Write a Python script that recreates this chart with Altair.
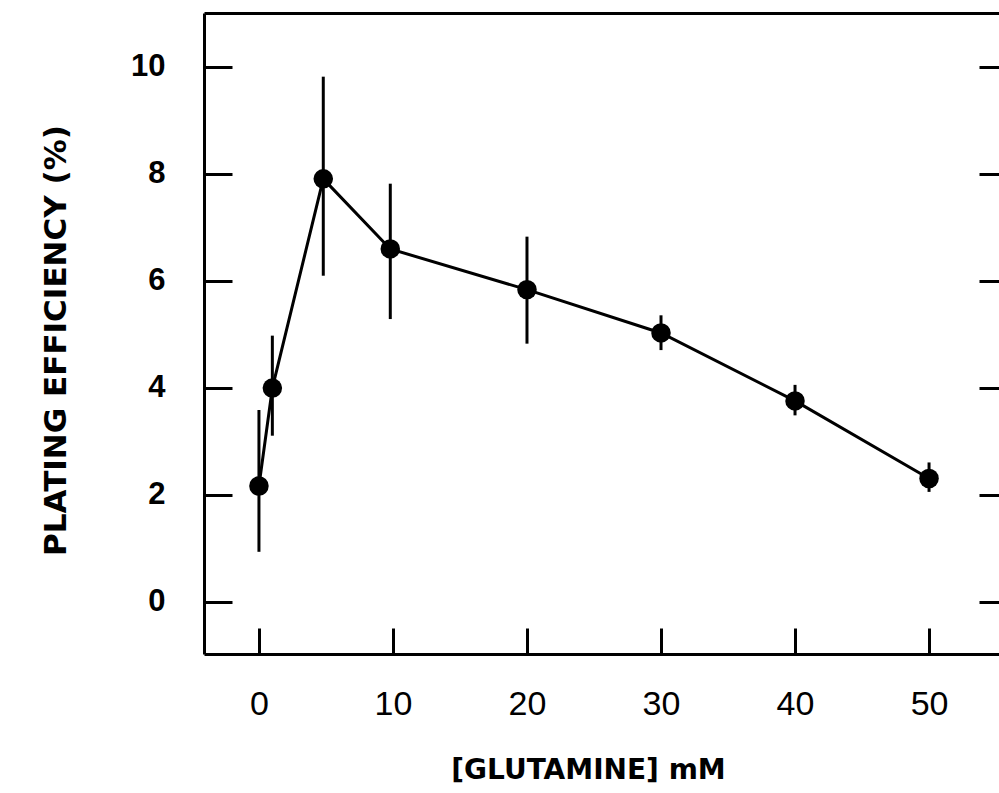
import altair as alt
import pandas as pd

# Values
glutamine = [0, 1, 4.8, 9.8, 20, 30, 40, 50]          # mM
efficiency = [2.16, 3.99, 7.90, 6.59, 5.83, 5.02, 3.75, 2.30]  # %
err_low = [0.93, 3.10, 6.09, 5.28, 4.82, 4.70, 3.48, 2.05]
err_high = [3.58, 4.97, 9.81, 7.81, 6.82, 5.35, 4.05, 2.60]
x_ticks = [0, 10, 20, 30, 40, 50]
y_ticks = [0, 2, 4, 6, 8, 10]

df = pd.DataFrame({"g": glutamine, "pe": efficiency, "lo": err_low, "hi": err_high})

xs = alt.Scale(domain=[-4.10, 55.22], nice=False, zero=False)
ys = alt.Scale(domain=[-0.98, 11.0], nice=False, zero=False)

LABEL_X_FONT = "Liberation Sans, sans-serif"
LABEL_Y_FONT = "Liberation Sans, sans-serif"
TITLE_FONT = "DejaVu Sans, sans-serif"

# axes: inward ticks with labels
ax_bottom_ticks = alt.Axis(orient="bottom", values=x_ticks, offset=-26, tickSize=26, tickWidth=3,
                           tickColor="black", domain=False, grid=False, labelFont=LABEL_X_FONT,
                           labelFontSize=34, labelPadding=33, labelColor="black", title=None)
ax_left_ticks = alt.Axis(orient="left", values=y_ticks, offset=-28, tickSize=28, tickWidth=3,
                         tickColor="black", domain=False, grid=False, labelFont=LABEL_Y_FONT,
                         labelFontSize=31, labelFontWeight="bold", labelPadding=39,
                         labelColor="black", title=None)
# frame lines (domain only) + titles
ax_bottom_dom = alt.Axis(orient="bottom", ticks=False, labels=False, grid=False, domain=True,
                         domainWidth=3, domainColor="black", title="[GLUTAMINE]  mM",
                         titleFont=TITLE_FONT, titleFontSize=28, titleFontWeight="bold",
                         titleColor="black", titleX=384, titleY=116, titleBaseline="middle")
ax_left_dom = alt.Axis(orient="left", ticks=False, labels=False, grid=False, domain=True,
                       domainWidth=3, domainColor="black", title="PLATING EFFICIENCY (%)",
                       titleFont=TITLE_FONT, titleFontSize=31, titleFontWeight="bold",
                       titleColor="black", titleX=-148, titleY=327, titleBaseline="middle",
                       titleAngle=270)
ax_top_dom = alt.Axis(orient="top", ticks=False, labels=False, grid=False, domain=True,
                      domainWidth=3, domainColor="black", title=None)
ax_right_ticks = alt.Axis(orient="right", values=y_ticks, offset=-20, tickSize=20, tickWidth=3,
                          tickColor="black", domain=False, labels=False, grid=False, title=None)

base = alt.Chart(df)

bars = base.mark_rule(color="black", strokeWidth=3).encode(
    x=alt.X("g:Q", scale=xs, axis=ax_bottom_ticks),
    y=alt.Y("lo:Q", scale=ys, axis=ax_left_ticks),
    y2="hi:Q",
)
line = base.mark_line(color="black", strokeWidth=3).encode(
    x=alt.X("g:Q", scale=xs, axis=ax_bottom_dom),
    y=alt.Y("pe:Q", scale=ys, axis=ax_left_dom),
)
points = base.mark_circle(color="black", opacity=1, size=380).encode(
    x=alt.X("g:Q", scale=xs, axis=ax_top_dom),
    y=alt.Y("pe:Q", scale=ys, axis=ax_right_ticks),
)

chart = alt.layer(bars, line, points).resolve_axis(
    x="independent", y="independent"
).properties(
    width=795, height=641, autosize="none",
    padding={"left": 204, "top": 13, "right": 0, "bottom": 139},
    background="white",
).configure_view(stroke=None)

chart.save("out.html", embed_options={"renderer": "svg", "actions": False})
